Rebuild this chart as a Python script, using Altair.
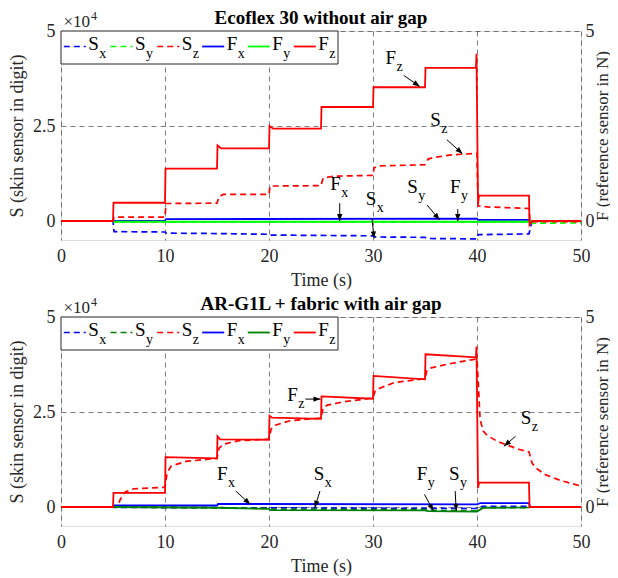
import math
import altair as alt
import pandas as pd

FONT = "Liberation Serif"
INK = "#262626"
RED, BLUE = "#FF0000", "#0000FF"
GREEN_TOP, GREEN_BOT = "#00FF00", "#008000"

PLOT_W, PLOT_H = 520, 209
T_DOMAIN = [0, 50]
V_DOMAIN = [-0.5, 5]

TITLES = ["Ecoflex 30 without air gap", "AR-G1L + fabric with air gap"]
SERIES_S = ["Sx", "Sy", "Sz"]
SERIES_F = ["Fx", "Fy", "Fz"]

# ---------------- panel 1 : Ecoflex 30 without air gap (S in 1e4 digit, F in N)
top_Sx_t = [0, 5, 5.1, 10, 10.1, 15, 20, 20.1, 25, 30, 30.2, 35, 35.2, 40, 40.1, 45, 45.1, 45.3, 50]
top_Sx_v = [0, 0, -0.28, -0.29, -0.32, -0.33, -0.35, -0.37, -0.38, -0.39, -0.42, -0.43, -0.46, -0.47, -0.36, -0.34, -0.22, 0.0, 0.0]
top_Sy_t = [0, 5, 5.1, 45, 45.1, 50]
top_Sy_v = [0, 0, -0.03, -0.03, -0.06, -0.05]
top_Sz_t = [0, 5, 5.1, 10, 10.1, 15, 15.2, 15.6, 20, 20.1, 25, 25.2, 26.2, 30, 30.1, 30.6, 35, 35.3, 35.8, 37.5, 40, 40.1, 41, 45, 45.1, 50]
top_Sz_v = [0, 0, 0.1, 0.1, 0.46, 0.47, 0.64, 0.7, 0.7, 0.92, 0.93, 1.13, 1.18, 1.2, 1.4, 1.45, 1.48, 1.63, 1.67, 1.74, 1.78, 0.4, 0.37, 0.33, -0.02, -0.02]
top_Fx_t = [0, 5, 10, 10.1, 40, 40.1, 45, 45.1, 50]
top_Fx_v = [0, 0.0, 0.01, 0.05, 0.06, 0.03, 0.03, 0.0, 0.0]
top_Fy_t = [0, 5, 5.1, 45, 45.1, 50]
top_Fy_v = [0, 0, -0.02, -0.02, 0, 0]
top_Fz_t = [0, 5, 5.05, 10, 10.05, 15, 15.05, 15.4, 20, 20.05, 20.4, 25, 25.05, 30, 30.05, 35, 35.05, 39.9, 39.95, 40.1, 40.2, 45, 45.05, 45.3, 50]
top_Fz_v = [0, 0, 0.48, 0.48, 1.38, 1.38, 1.99, 1.91, 1.91, 2.5, 2.43, 2.43, 3.0, 3.0, 3.52, 3.52, 4.03, 4.03, 4.4, 0.45, 0.67, 0.67, -0.1, 0.0, 0.0]

top_ann_main = ["F", "S", "F", "S", "S", "F"]
top_ann_sub = ["z", "z", "x", "x", "y", "y"]
top_ann_t = [31.2, 35.5, 25.9, 29.3, 33.3, 37.4]
top_ann_v = [4.12, 2.5, 0.81, 0.42, 0.73, 0.73]
top_arr_t1 = [32.96, 37.1, 26.8, 29.9, 35.2, 38.15]
top_arr_v1 = [3.83, 2.14, 0.47, 0.07, 0.42, 0.31]
top_arr_t2 = [34.5, 38.6, 26.8, 30.1, 36.4, 38.15]
top_arr_v2 = [3.54, 1.77, 0.0, -0.46, 0.03, 0.0]

# ---------------- panel 2 : AR-G1L + fabric with air gap
bot_Sx_t = [0, 5, 5.1, 40, 40.5, 45, 45.1, 50]
bot_Sx_v = [0, 0, -0.01, -0.04, 0.02, 0.02, 0.0, 0.0]
bot_Sy_t = [0, 5, 15, 20, 20.1, 35, 35.5, 40, 40.6, 45, 45.1, 50]
bot_Sy_v = [0, 0, -0.02, -0.04, -0.06, -0.07, -0.09, -0.1, -0.02, -0.02, 0, 0]
bot_Sz_t = [0, 5, 5.5, 5.7, 6.2, 7, 10, 10.2, 10.6, 12, 15, 15.2, 15.6, 17, 20, 20.2, 20.6, 22, 25, 25.2, 25.6, 27, 30, 30.2, 30.6, 32, 35, 35.2, 35.6, 37, 40, 40.3, 40.6, 41, 42, 43, 44, 45, 45.3, 45.8, 46.5, 48, 50]
bot_Sz_v = [0, 0, 0.05, 0.2, 0.4, 0.48, 0.52, 0.9, 1.08, 1.2, 1.28, 1.55, 1.65, 1.74, 1.79, 2.05, 2.15, 2.27, 2.34, 2.6, 2.68, 2.76, 2.87, 3.05, 3.12, 3.27, 3.38, 3.6, 3.66, 3.75, 3.9, 2.3, 2.0, 1.88, 1.72, 1.62, 1.52, 1.45, 1.15, 1.0, 0.86, 0.7, 0.55]
bot_Fx_t = [0, 5, 5.1, 15, 15.1, 40, 40.3, 45, 45.1, 50]
bot_Fx_v = [0, 0, 0.04, 0.04, 0.08, 0.07, 0.1, 0.1, 0.0, 0.0]
bot_Fy_t = [0, 5, 15, 20, 20.1, 35, 35.3, 40, 40.6, 45, 45.1, 50]
bot_Fy_v = [0, 0, -0.02, -0.05, -0.08, -0.09, -0.11, -0.12, -0.02, -0.01, 0, 0]
bot_Fz_t = [0, 5, 5.05, 10, 10.05, 15, 15.05, 15.3, 20, 20.05, 20.3, 25, 25.05, 30, 30.05, 35, 35.05, 39.9, 39.95, 40.1, 40.2, 45, 45.05, 50]
bot_Fz_v = [0, 0, 0.37, 0.37, 1.31, 1.28, 1.86, 1.78, 1.77, 2.4, 2.35, 2.32, 2.91, 2.85, 3.45, 3.36, 4.02, 3.94, 4.22, 0.5, 0.64, 0.64, 0.0, 0.0]

bot_ann_main = ["F", "S", "F", "S", "F", "S"]
bot_ann_sub = ["z", "z", "x", "x", "y", "y"]
bot_ann_t = [21.75, 44.2, 15.0, 24.3, 34.2, 37.3]
bot_ann_v = [2.78, 2.19, 0.71, 0.72, 0.72, 0.72]
bot_arr_t1 = [23.5, 43.7, 16.8, 24.9, 34.95, 37.9]
bot_arr_v1 = [2.84, 1.86, 0.42, 0.42, 0.33, 0.42]
bot_arr_t2 = [24.95, 42.6, 18.2, 24.4, 35.8, 38.0]
bot_arr_v2 = [2.84, 1.6, 0.07, -0.02, -0.1, -0.1]

# ---------------- legend (layout in plot pixels)
legend_main = ["S", "S", "S", "F", "F", "F"]
legend_sub = ["x", "y", "z", "x", "y", "z"]
legend_x0 = [2.8, 49.5, 96.2, 141.2, 186.8, 232.8]
LEG_W, LEG_H = 277, 33
LEG_LINE_LEN = 22
LEG_LINE_Y = 15.5
LEG_TEXT_Y = 19

MAIN_FS, SUB_FS = 19, 14
SUB_DX, SUB_DY = 11, 7
HEAD_LEN = 7
TITLE_Y = [-7, -7]


def line_frame(names, colors, ts_list, vs_list):
    rows = []
    for name, col, ts, vs in zip(names, colors, ts_list, vs_list):
        for i, (t, v) in enumerate(zip(ts, vs)):
            rows.append(dict(series=name, color=col, t=t, v=v, k=i))
    return pd.DataFrame(rows)


def yscale():
    return alt.Scale(domain=V_DOMAIN, nice=False, zero=False)


XSCALE = alt.Scale(domain=T_DOMAIN, nice=False, zero=False)

GRID = dict(grid=True, gridDash=[5, 4], gridColor=INK, gridOpacity=0.75, gridWidth=0.8)
LAB = dict(labelFont=FONT, labelFontSize=18, labelColor=INK, titleFont=FONT, titleFontSize=18,
           titleFontWeight="normal", titleColor=INK, ticks=False, tickSize=0, domain=False)

X_AXIS = alt.Axis(values=[0, 10, 20, 30, 40, 50], format="d", title="Time (s)", labelPadding=7,
                  labelFlush=False, titlePadding=6, **GRID, **LAB)
Y_LEFT = alt.Axis(values=[0, 2.5, 5], format=".2~g", title="S (skin sensor in digit)", labelPadding=6,
                  titlePadding=6, **GRID, **LAB)
Y_RIGHT = alt.Axis(orient="right", values=[0, 5], format=".2~g", title="F (reference sensor in N)",
                   labelPadding=4, titlePadding=0, titleAngle=270, titleBaseline="top", grid=False,
                   **{**LAB, "titleFontSize": 17})


def xenc(field):
    return alt.X(field, type="quantitative", scale=XSCALE, axis=X_AXIS)


def yenc(field):
    return alt.Y(field, type="quantitative", scale=yscale(), axis=None)


def panel(title, title_y, green, S_t, S_v, F_t, F_v, a_main, a_sub, a_t, a_v, r_t1, r_v1, r_t2, r_v2):
    colors = [BLUE, green, RED, BLUE, green, RED]
    df_s = line_frame(SERIES_S, colors[:3], S_t, S_v)
    df_f = line_frame(SERIES_F, colors[3:], F_t, F_v)

    s_layer = alt.Chart(df_s).mark_line(strokeDash=[6, 4], strokeWidth=1.7).encode(
        x=xenc("t"),
        y=alt.Y("v:Q", scale=yscale(), axis=Y_LEFT),
        color=alt.Color("color:N", scale=None),
        detail="series:N", order="k:Q")
    f_layer = alt.Chart(df_f).mark_line(strokeWidth=1.8).encode(
        x=xenc("t"),
        y=alt.Y("v:Q", scale=yscale(), axis=Y_RIGHT),
        color=alt.Color("color:N", scale=None),
        detail="series:N", order="k:Q")

    ann = pd.DataFrame(dict(main=a_main, sub=a_sub, t=a_t, v=a_v))
    px_t = PLOT_W / (T_DOMAIN[1] - T_DOMAIN[0])
    px_v = PLOT_H / (V_DOMAIN[1] - V_DOMAIN[0])
    ang = []
    for t1, v1, t2, v2 in zip(r_t1, r_v1, r_t2, r_v2):
        dx = (t2 - t1) * px_t
        dy = -(v2 - v1) * px_v
        ang.append((math.degrees(math.atan2(dx, -dy)) + 360) % 360)
    arr = pd.DataFrame(dict(t1=r_t1, v1=r_v1, t2=r_t2, v2=r_v2, ang=ang))

    t_main = alt.Chart(ann).mark_text(font=FONT, fontSize=MAIN_FS, align="left", baseline="alphabetic",
                                      color="black").encode(text="main:N", x=xenc("t"), y=yenc("v"))
    t_sub = alt.Chart(ann).mark_text(font=FONT, fontSize=SUB_FS, align="left", baseline="alphabetic",
                                     dx=SUB_DX, dy=SUB_DY, color="black").encode(
        text="sub:N", x=xenc("t"), y=yenc("v"))
    shafts = alt.Chart(arr).mark_rule(color="black", strokeWidth=1).encode(
        x=xenc("t1"), x2="t2:Q", y=yenc("v1"), y2="v2:Q")
    heads = alt.Chart(arr).mark_point(shape="M0,0 L-0.38,1 L0.38,1 Z", filled=True, opacity=1,
                                      color="black", size=(2 * HEAD_LEN) ** 2, strokeWidth=0).encode(
        x=xenc("t2"), y=yenc("v2"), angle=alt.Angle("ang:Q", scale=None))

    # legend box
    leg = pd.DataFrame(dict(main=legend_main, sub=legend_sub, x0=legend_x0, color=colors,
                            dashed=[True, True, True, False, False, False]))
    leg["x1"] = leg["x0"] + LEG_LINE_LEN
    leg["xt"] = leg["x1"] + 2.5
    leg["yl"] = LEG_LINE_Y
    leg["yt"] = LEG_TEXT_Y
    one = pd.DataFrame({"a": [0]})
    box = alt.Chart(one).mark_rect(fill="white", stroke=INK, strokeWidth=1).encode(
        x=alt.value(0), x2=alt.value(LEG_W), y=alt.value(0), y2=alt.value(LEG_H))
    leg_d = alt.Chart(leg[leg.dashed]).mark_rule(strokeDash=[6, 4], strokeWidth=1.7).encode(
        x=alt.X("x0:Q", scale=None, axis=None), x2="x1:Q",
        y=alt.Y("yl:Q", scale=None, axis=None), color=alt.Color("color:N", scale=None))
    leg_s = alt.Chart(leg[~leg.dashed]).mark_rule(strokeWidth=1.8).encode(
        x=alt.X("x0:Q", scale=None, axis=None), x2="x1:Q",
        y=alt.Y("yl:Q", scale=None, axis=None), color=alt.Color("color:N", scale=None))
    leg_t = alt.Chart(leg).mark_text(font=FONT, fontSize=MAIN_FS, align="left", baseline="alphabetic",
                                     color="black").encode(
        x=alt.X("xt:Q", scale=None, axis=None), y=alt.Y("yt:Q", scale=None, axis=None), text="main:N")
    leg_sub = alt.Chart(leg).mark_text(font=FONT, fontSize=SUB_FS, align="left", baseline="alphabetic",
                                       dx=SUB_DX, dy=SUB_DY + 0.5, color="black").encode(
        x=alt.X("xt:Q", scale=None, axis=None), y=alt.Y("yt:Q", scale=None, axis=None), text="sub:N")

    exp_base = alt.Chart(one).mark_text(font=FONT, fontSize=17, align="left", baseline="alphabetic",
                                        color=INK, text="\u00d710").encode(x=alt.value(2.5), y=alt.value(-4))
    exp_pow = alt.Chart(one).mark_text(font=FONT, fontSize=12, align="left", baseline="alphabetic",
                                       color=INK, text="4").encode(x=alt.value(30), y=alt.value(-11))
    ttl = alt.Chart(one).mark_text(font=FONT, fontSize=19, fontWeight="bold", align="center",
                                   baseline="alphabetic", color="black", text=title).encode(
        x=alt.value(PLOT_W / 2), y=alt.value(title_y))

    layered = alt.layer(s_layer, f_layer, shafts, heads, t_main, t_sub, box, leg_d, leg_s, leg_t, leg_sub,
                        exp_base, exp_pow, ttl).resolve_scale(y="independent").properties(
        width=PLOT_W, height=PLOT_H)
    return layered


top = panel(TITLES[0], TITLE_Y[0], GREEN_TOP,
            [top_Sx_t, top_Sy_t, top_Sz_t], [top_Sx_v, top_Sy_v, top_Sz_v],
            [top_Fx_t, top_Fy_t, top_Fz_t], [top_Fx_v, top_Fy_v, top_Fz_v],
            top_ann_main, top_ann_sub, top_ann_t, top_ann_v, top_arr_t1, top_arr_v1, top_arr_t2, top_arr_v2)
bottom = panel(TITLES[1], TITLE_Y[1], GREEN_BOT,
               [bot_Sx_t, bot_Sy_t, bot_Sz_t], [bot_Sx_v, bot_Sy_v, bot_Sz_v],
               [bot_Fx_t, bot_Fy_t, bot_Fz_t], [bot_Fx_v, bot_Fy_v, bot_Fz_v],
               bot_ann_main, bot_ann_sub, bot_ann_t, bot_ann_v, bot_arr_t1, bot_arr_v1, bot_arr_t2, bot_arr_v2)

chart = alt.vconcat(top, bottom, spacing=4).properties(
    padding={"left": 0, "top": 0, "right": -1, "bottom": 0}
).configure_view(stroke=INK, strokeWidth=1).configure(background="white")

chart.save("out.html", embed_options={"renderer": "svg", "actions": False})
